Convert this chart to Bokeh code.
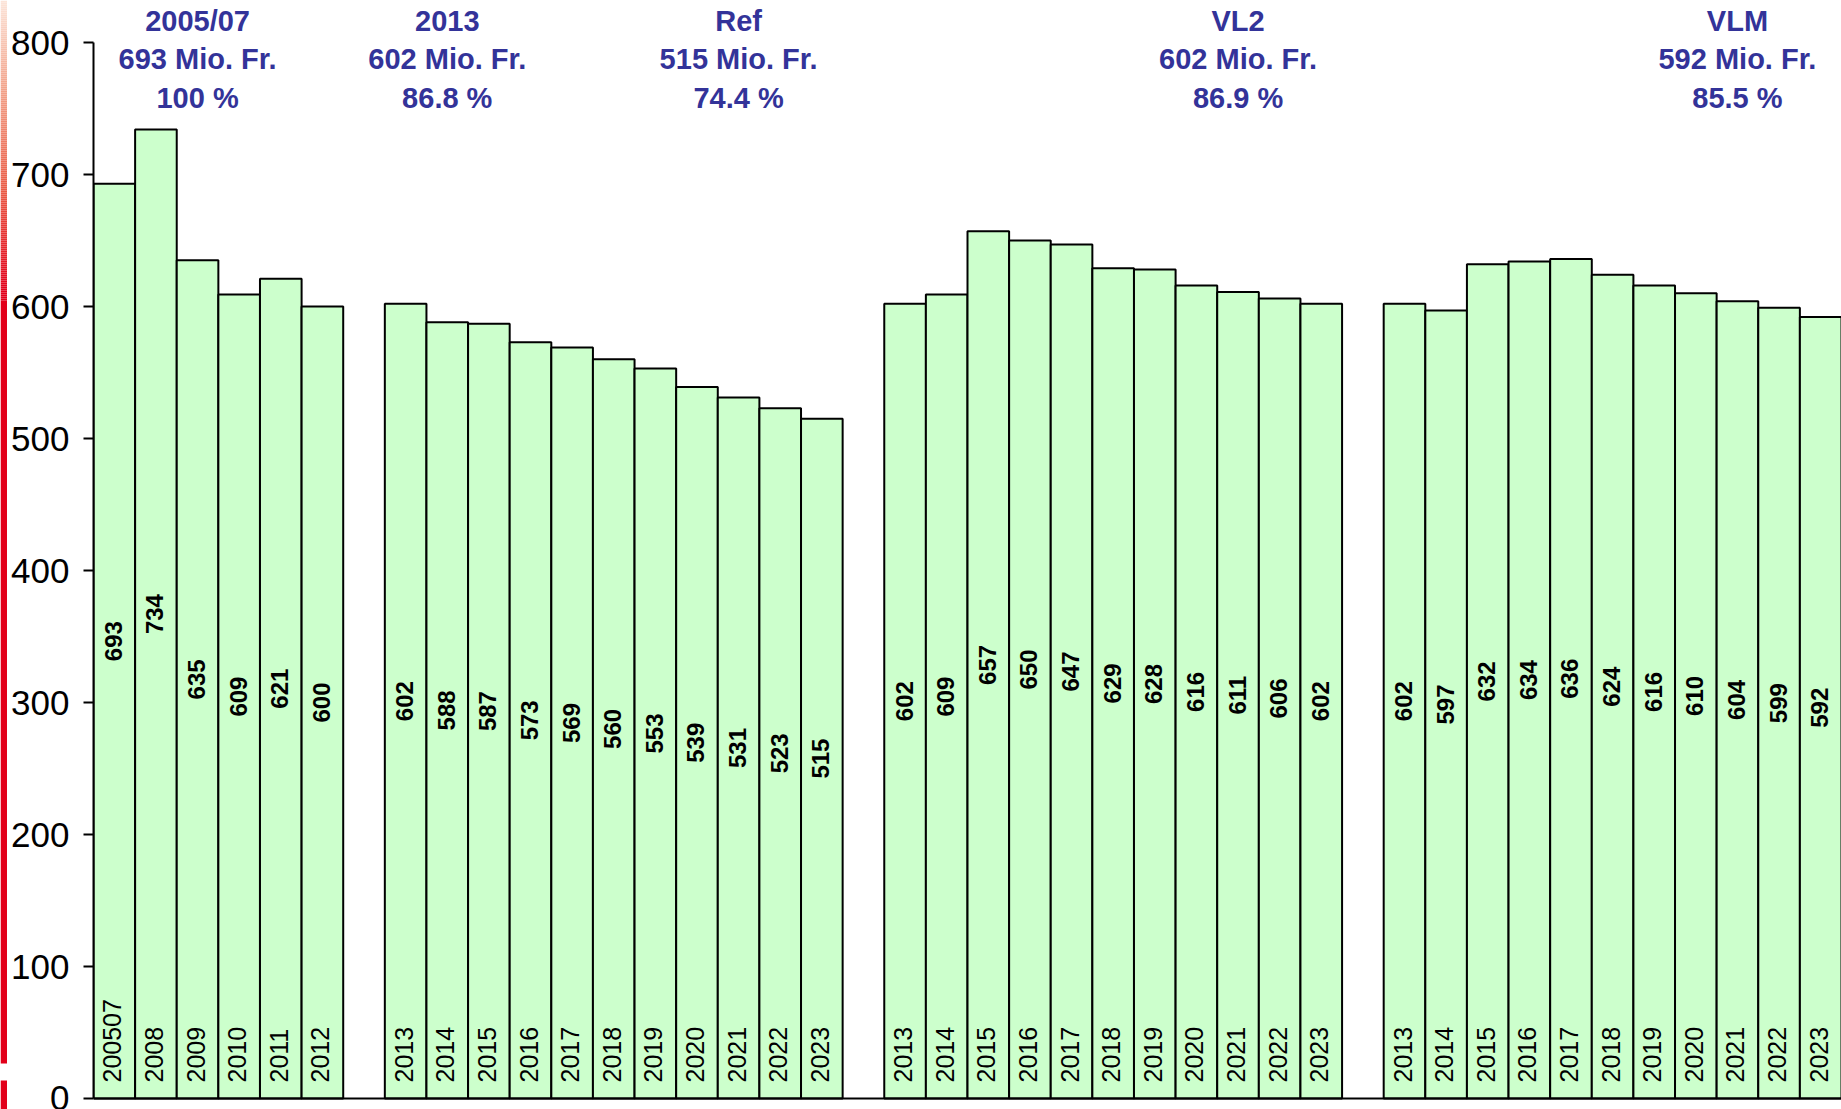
import math
from bokeh.plotting import figure
from bokeh.layouts import row
from bokeh.models import Range1d, Span, FixedTicker, ColumnDataSource
from bokeh.core.properties import value
from bokeh.embed import file_html
from bokeh.resources import INLINE

# ---------------- data ----------------
hist_years = ["200507", "2008", "2009", "2010", "2011", "2012"]
hist_values = [693, 734, 635, 609, 621, 600]

ref_years = ["2013", "2014", "2015", "2016", "2017", "2018", "2019", "2020", "2021", "2022", "2023"]
ref_values = [602, 588, 587, 573, 569, 560, 553, 539, 531, 523, 515]

vl2_years = ["2013", "2014", "2015", "2016", "2017", "2018", "2019", "2020", "2021", "2022", "2023"]
vl2_values = [602, 609, 657, 650, 647, 629, 628, 616, 611, 606, 602]

vlm_years = ["2013", "2014", "2015", "2016", "2017", "2018", "2019", "2020", "2021", "2022", "2023"]
vlm_values = [602, 597, 632, 634, 636, 624, 616, 610, 604, 599, 592]

anno_titles = ["2005/07", "2013", "Ref", "VL2", "VLM"]
anno_amounts = ["693 Mio. Fr.", "602 Mio. Fr.", "515 Mio. Fr.", "602 Mio. Fr.", "592 Mio. Fr."]
anno_percents = ["100 %", "86.8 %", "74.4 %", "86.9 %", "85.5 %"]
# annotation anchored over (group index, bar index within group)
anno_anchor = [(0, 2), (1, 1), (1, 8), (2, 8), (3, 8)]

y_ticks = [0, 100, 200, 300, 400, 500, 600, 700, 800]

# ---------------- layout ----------------
groups = [(hist_years, hist_values), (ref_years, ref_values),
          (vl2_years, vl2_values), (vlm_years, vlm_values)]

xs, vals, labels, group_start = [], [], [], []
slot = 0
for yrs, vs in groups:
    group_start.append(slot)
    for yr, v in zip(yrs, vs):
        xs.append(slot)
        vals.append(v)
        labels.append(yr)
        slot += 1
    slot += 1
n_slots = slot - 1

STRIPE_W = 7
W, H = 1841 - STRIPE_W, 1109
LEFT = 93 - STRIPE_W
zero_px = 1098      # canvas y of value 0
top_px = 42         # canvas y of value 800
ppu = (zero_px - top_px) / 800.0
y_start = -(H - zero_px) / ppu
y_end = 800 + top_px / ppu

def y_at(canvas_y):
    return 800 + (top_px - canvas_y) / ppu

# ---------------- decorative red stripe on the left ----------------
stops = [(0, (252, 228, 216)), (90, (242, 160, 135)), (190, (234, 90, 68)),
         (290, (226, 0, 26)), (H, (226, 0, 26))]

def col_at(py):
    for (a, ca), (b, cb) in zip(stops[:-1], stops[1:]):
        if a <= py <= b:
            t = (py - a) / (b - a) if b > a else 0
            c = [round(ca[k] + (cb[k] - ca[k]) * t) for k in range(3)]
            return "#%02x%02x%02x" % tuple(c)
    return "#e2001a"

s_top, s_bot, s_col = [], [], []
for py in range(0, 300, 2):
    s_top.append(py)
    s_bot.append(py + 2)
    s_col.append(col_at(py))
s_top += [300, 1080]
s_bot += [1063, H]
s_col += ["#e2001a", "#e2001a"]

stripe = figure(width=STRIPE_W, height=H, output_backend="svg", toolbar_location=None,
                x_range=Range1d(0, 1), y_range=Range1d(H, 0),
                x_axis_location=None, y_axis_location=None,
                min_border=0, outline_line_color=None)
stripe.grid.visible = False
stripe.quad(left=0, right=1, top="t", bottom="b", fill_color="c", line_color=None,
            source=ColumnDataSource(dict(t=s_top, b=s_bot, c=s_col)))

# ---------------- main chart ----------------
p = figure(width=W, height=H, output_backend="svg", toolbar_location=None,
           x_range=Range1d(-0.5, n_slots - 0.5), y_range=Range1d(y_start, y_end),
           x_axis_location=None, min_border_left=LEFT, min_border_right=0,
           min_border_top=0, min_border_bottom=0)
p.outline_line_color = None
p.xgrid.visible = False
p.ygrid.visible = False
p.background_fill_color = "white"
p.border_fill_color = "white"

src = ColumnDataSource(dict(
    x=xs, top=vals, label=labels,
    vlabel=[str(v) for v in vals],
    mid=[v / 2.0 for v in vals],
    ybot=[16 / ppu] * len(xs),
))

p.vbar(x="x", top="top", bottom=0, width=1.0, source=src,
       fill_color="#CCFFCC", line_color="black", line_width=2)

p.text(x="x", y="mid", text="vlabel", source=src, angle=math.pi / 2,
       text_align="center", text_baseline="middle",
       text_font=value("Liberation Sans"), text_font_style="bold",
       text_font_size="24px", text_color="black", x_offset=-1)

p.text(x="x", y="ybot", text="label", source=src, angle=math.pi / 2,
       text_align="left", text_baseline="middle",
       text_font=value("Liberation Sans"), text_font_size="25px",
       text_color="black", x_offset=-2)

p.add_layout(Span(location=0, dimension="width", line_color="black", line_width=2))

# top annotations
ax = [group_start[g] + i for g, i in anno_anchor]
for lines, cy in [(anno_titles, 20), (anno_amounts, 58), (anno_percents, 97)]:
    asrc = ColumnDataSource(dict(x=ax, y=[y_at(cy)] * len(ax), t=lines))
    p.text(x="x", y="y", text="t", source=asrc, text_align="center",
           text_baseline="middle", text_font=value("Liberation Sans"),
           text_font_style="bold", text_font_size="29px", text_color="#333399")

yax = p.yaxis[0]
yax.ticker = FixedTicker(ticks=y_ticks)
yax.bounds = (0, 800)
yax.axis_line_color = "black"
yax.axis_line_width = 2
yax.major_tick_line_color = "black"
yax.major_tick_line_width = 2
yax.major_tick_out = 10
yax.major_tick_in = 0
yax.minor_tick_line_color = None
yax.major_label_text_font = "Liberation Sans"
yax.major_label_text_font_size = "35px"
yax.major_label_text_color = "black"
yax.major_label_standoff = 14

layout = row(stripe, p, spacing=0)
open("out.html", "w").write(file_html(layout, INLINE))
